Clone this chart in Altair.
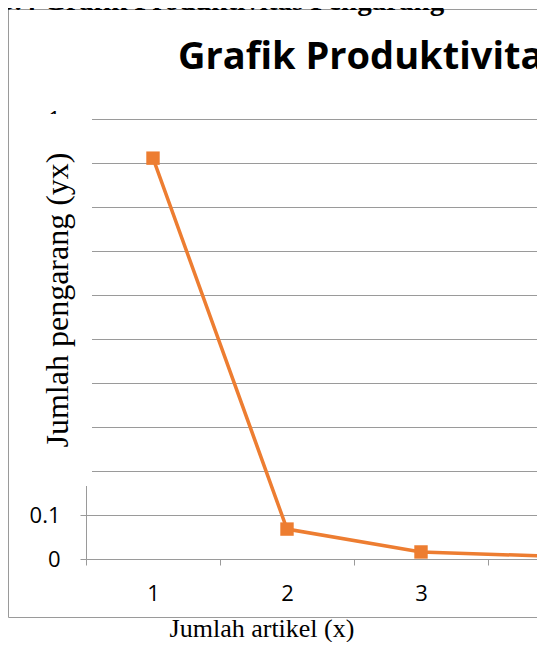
import altair as alt
import pandas as pd

# ---- data ----
artikel = [1, 2, 3, 4]
pengarang = [0.911, 0.068, 0.016, 0.006]
y_ticks = [0.0, 0.1, 0.2, 0.3, 0.4, 0.5, 0.6, 0.7, 0.8, 0.9, 1.0]
x_tick_positions = [0.5, 1.5, 2.5, 3.5]

heading_text = "3.4 Grafik Produktivitas Pengarang"
chart_title = "Grafik Produktivitas Pengarang"
x_title = "Jumlah artikel (x)"
y_title = "Jumlah pengarang (yx)"

df = pd.DataFrame({"x": artikel, "y": pengarang})

ORANGE = "#ED7D31"
GRID = "#9a9a9a"

PLOT_W = 451
xscale = alt.Scale(domain=[0.5, 0.5 + PLOT_W / 134], nice=False, zero=False)
yscale = alt.Scale(domain=[0, 1], nice=False)

xaxis = alt.Axis(
    values=x_tick_positions, title=None, grid=False, tickSize=6,
    tickColor=GRID, domainColor=GRID, labelOffset=67, labelFlush=False,
    labelExpr="format(datum.value + 0.5, 'd')", labelFont="Open Sans",
    labelFontSize=22, labelColor="#000", labelPadding=18, labelOverlap=False,
    labelBound=False,
)
yaxis = alt.Axis(
    values=y_ticks, title=None, grid=True, gridColor=GRID, tickSize=6,
    tickColor=GRID, domainColor=GRID, labelFont="Open Sans", labelFontSize=22,
    labelColor="#000", labelPadding=20,
    labelExpr="datum.value == 0 ? '0' : (datum.value == 1 ? '1' : format(datum.value, '.1f'))",
)

base = alt.Chart(df).encode(
    x=alt.X("x:Q", scale=xscale, axis=xaxis),
    y=alt.Y("y:Q", scale=yscale, axis=yaxis),
)
line = base.mark_line(color=ORANGE, strokeWidth=3.5, clip=True)
points = base.mark_point(shape="square", size=180, filled=True, opacity=1,
                         color=ORANGE, clip=True)

one = alt.Data(values=[{}])

frame = alt.Chart(one).mark_rect(fill=None, stroke=GRID, strokeWidth=1).encode(
    x=alt.value(-77.5), x2=alt.value(PLOT_W + 20), y=alt.value(-109.5), y2=alt.value(498.5)
)
whitebox = alt.Chart(one).mark_rect(fill="white").encode(
    x=alt.value(-57), x2=alt.value(6), y=alt.value(-5), y2=alt.value(367)
)
heading = alt.Chart(one).mark_text(
    text=heading_text, font="Liberation Serif", fontWeight="bold", fontSize=29,
    align="left", baseline="alphabetic", color="#000"
).encode(x=alt.value(-86), y=alt.value(-109))
title = alt.Chart(one).mark_text(
    text=chart_title, font="Open Sans", fontWeight="bold", fontSize=38,
    align="left", baseline="alphabetic", color="#000"
).encode(x=alt.value(92), y=alt.value(-50))
ytitle = alt.Chart(one).mark_text(
    text=y_title, font="Liberation Serif", fontSize=32, angle=270,
    align="center", baseline="alphabetic", color="#000"
).encode(x=alt.value(-18), y=alt.value(181))
xtitle = alt.Chart(one).mark_text(
    text=x_title, font="Liberation Serif", fontSize=26,
    align="center", baseline="alphabetic", color="#000"
).encode(x=alt.value(176), y=alt.value(518))

chart = alt.layer(
    line, points, frame, whitebox, heading, title, ytitle, xtitle
).properties(
    width=PLOT_W, height=440,
    autosize=alt.AutoSizeParams(type="none"),
    padding={"left": 78, "top": 111, "right": 0, "bottom": 83},
).configure_view(stroke=None)

chart.save("out.html", embed_options={"renderer": "svg", "actions": False})
